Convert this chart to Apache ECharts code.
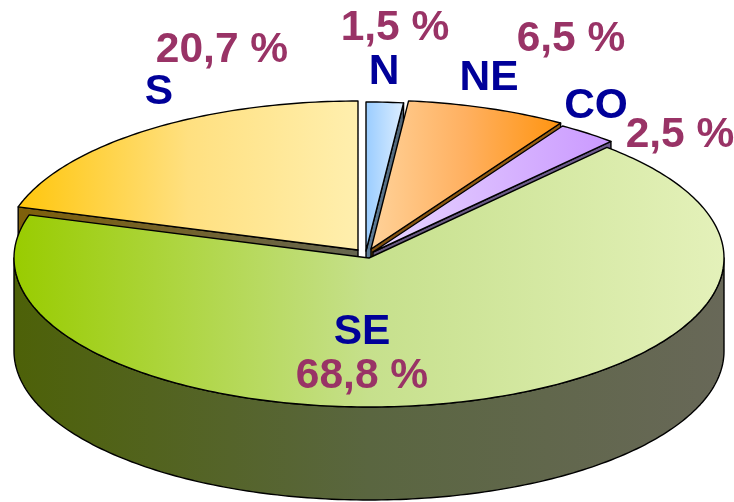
<!DOCTYPE html>
<html>
<head>
<meta charset="utf-8">
<style>html,body{margin:0;padding:0;background:#fff}#c{width:734px;height:502px}</style>
<script src="https://cdn.jsdelivr.net/npm/echarts@6/dist/echarts.min.js"></script>
</head>
<body>
<div id="c"></div>
<script>
// ---- data ----
const categories = ['N', 'NE', 'CO', 'SE', 'S'];
const shares = [1.5, 6.5, 2.5, 68.8, 20.7];

// ---- geometry and style (not data) ----
const drawOrder = [4, 0, 1, 2, 3];
const RX = 355, RY = 149, DEPTH = 93 / RY;
// slice displacement from the pie centre, in px (right, up)
const shift = [[-3, 7], [2, 9], [4, 6], [0, 0], [-11, 8]];
// which cut edge is visible: 1 = clockwise end, -1 = clockwise start, 0 = none
const cutEdge = [1, 1, 1, 0, -1];
// the 3D view compresses angles unevenly
const warp = d => { const t = d * Math.PI / 180; return d + 3.5 * Math.sin(2 * t) + 4.27 * (1 - Math.cos(t)); };
const topColors = [
  ['#99CCFF', '#DDEEFF'],
  ['#FFD299', '#FFB060', '#FF9410'],
  ['#E8D6FF', '#CA99FF'],
  ['#99CC00', '#C6E08C', '#E4F1BA'],
  ['#FFC60C', '#FFE080', '#FFEFAE']
];
const cutColors = [['#5F7F9C', '#4E6272'], ['#805010', '#9A6010'], ['#66587C', '#6E5C8E'], ['#000', '#000'], ['#7F600A', '#666650']];
const wallColors = ['#4D6108', '#5A6640', '#686858'];
const labelX = [384, 489, 596, 362, 159];
const labelY = [72, 78, 106, 332, 92];
const valueX = [395, 571, 680, 362, 222];
const valueY = [28, 39, 135, 376, 50];
const BLUE = '#000099', PLUM = '#993366';

const grad = c => new echarts.graphic.LinearGradient(0, 0, 1, 0,
  c.map((color, k) => ({ offset: k / (c.length - 1), color })));

function startOf(i) { let s = 0; for (let k = 0; k < i; k++) s += shares[k]; return s * 3.6; }

function renderSlice(params, api) {
  const i = api.value(0);
  const a0 = warp(startOf(i)), a1 = warp(startOf(i) + shares[i] * 3.6);
  const ox = shift[i][0] / RX, oy = shift[i][1] / RY;
  const pt = (deg, drop) => {
    const t = deg * Math.PI / 180;
    return api.coord([ox + Math.sin(t), oy + Math.cos(t) - (drop || 0)]);
  };
  const apex = d => api.coord([ox, oy - (d || 0)]);
  const line = { stroke: '#000', lineWidth: 1.4, lineJoin: 'round' };
  const children = [];
  if (cutEdge[i]) {
    const a = cutEdge[i] > 0 ? a1 : a0;
    children.push({
      type: 'polygon',
      shape: { points: [apex(), pt(a), pt(a, DEPTH), apex(DEPTH)] },
      style: Object.assign({ fill: grad(cutColors[i]) }, line)
    });
  }
  if (i === 3) {
    const wall = [];
    for (let d = 90; d <= 270; d += 1) wall.push(pt(d));
    for (let d = 270; d >= 90; d -= 1) wall.push(pt(d, DEPTH));
    // the wall is traced right to left, but the gradient follows its bounding box
    children.push({ type: 'polygon', shape: { points: wall }, style: Object.assign({ fill: grad(wallColors) }, line) });
  }
  const top = [apex()];
  const n = Math.max(2, Math.ceil(a1 - a0));
  for (let k = 0; k <= n; k++) top.push(pt(a0 + (a1 - a0) * k / n));
  children.push({ type: 'polygon', shape: { points: top }, style: Object.assign({ fill: grad(topColors[i]) }, line) });
  return { type: 'group', children };
}

function renderLabel(params, api) {
  const i = api.value(0);
  const font = 'bold 42.5px "Liberation Sans", Arial, sans-serif';
  const text = (s, x, y, fill) => ({ type: 'text', style: { text: s, x, y, fill, font, align: 'center', verticalAlign: 'middle' } });
  return {
    type: 'group',
    children: [
      text(categories[i], labelX[i], labelY[i], BLUE),
      text(shares[i].toFixed(1).replace('.', ',') + ' %', valueX[i], valueY[i], PLUM)
    ]
  };
}

const chart = echarts.init(document.getElementById('c'), null, { renderer: 'canvas' });
chart.setOption({
  animation: false,
  backgroundColor: '#fff',
  grid: { left: 14, top: 109, width: 2 * RX, height: 2 * RY },
  xAxis: { type: 'value', min: -1, max: 1, show: false },
  yAxis: { type: 'value', min: -1, max: 1, show: false },
  series: [
    { type: 'custom', coordinateSystem: 'cartesian2d', clip: false, silent: true, z: 2,
      renderItem: renderSlice, encode: { x: 1, y: 1 }, data: drawOrder.map(i => [i, 0]) },
    { type: 'custom', coordinateSystem: 'cartesian2d', clip: false, silent: true, z: 3,
      renderItem: renderLabel, encode: { x: 1, y: 1 }, data: categories.map((c, i) => [i, 0]) }
  ]
});
</script>
</body>
</html>
